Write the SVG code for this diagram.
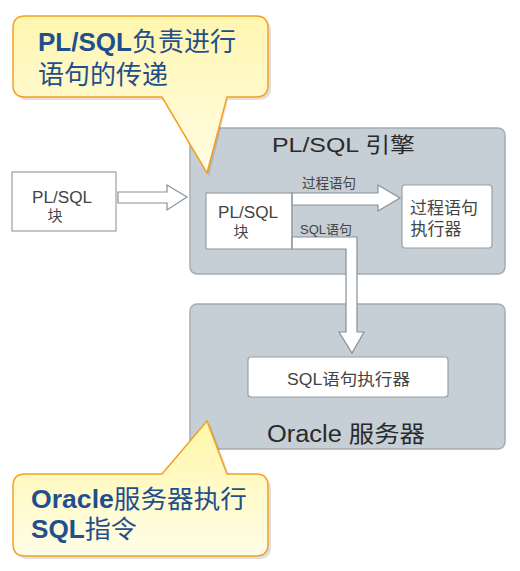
<svg xmlns="http://www.w3.org/2000/svg" width="520" height="571" viewBox="0 0 520 571">
<defs>
<linearGradient id="cg" x1="0" y1="0" x2="0" y2="1">
<stop offset="0" stop-color="#fff6b0"/>
<stop offset="1" stop-color="#fffde4"/>
</linearGradient>
<linearGradient id="cg2" x1="0" y1="0" x2="0" y2="1">
<stop offset="0" stop-color="#fff7a8"/>
<stop offset="1" stop-color="#fffde8"/>
</linearGradient>
</defs>
<style>
.panel{fill:#c5cfd5;stroke:#a3adb3;stroke-width:1.5}
.box{fill:#ffffff;stroke:#9aa0a4;stroke-width:1.2}
.arrow{fill:#ffffff;stroke:#8a9094;stroke-width:1.2;stroke-linejoin:miter}
.title{font-family:"Liberation Sans","Noto Sans CJK SC",sans-serif;fill:#2a2a2a}
.lbl{font-family:"Liberation Sans","Noto Sans CJK SC",sans-serif;fill:#444}
.call{fill:url(#cg);stroke:#f5a020;stroke-width:1.5}
.shadow{fill:#000;opacity:0.12}
.ct{font-family:"Liberation Sans","Noto Sans CJK SC",sans-serif;fill:#1f4f8c;font-size:26px}
.b{font-weight:bold}
</style>

<g id="engine">
<rect class="panel" x="190" y="128" width="315" height="146" rx="7"/>
<text class="title" x="272" y="152" font-size="21" textLength="143" lengthAdjust="spacingAndGlyphs">PL/SQL 引擎</text>
</g>

<g id="oracle-server">
<rect class="panel" x="190" y="304" width="315" height="145" rx="7"/>
<text class="title" x="267" y="442" font-size="23" textLength="158" lengthAdjust="spacingAndGlyphs">Oracle 服务器</text>
</g>

<g id="plsql-block-outer">
<rect class="box" x="12" y="172" width="104" height="59"/>
<text class="lbl" x="32" y="203" font-size="16" textLength="60" lengthAdjust="spacingAndGlyphs" fill="#333">PL/SQL</text>
<text class="lbl" x="55" y="221" font-size="15" text-anchor="middle">块</text>
</g>

<g id="plsql-block-inner">
<rect class="box" x="206" y="193" width="86" height="56"/>
<text class="lbl" x="218" y="218" font-size="16" textLength="60" lengthAdjust="spacingAndGlyphs">PL/SQL</text>
<text class="lbl" x="241" y="237" font-size="15" text-anchor="middle">块</text>
</g>

<g id="proc-executor">
<rect class="box" x="402" y="185" width="90" height="63" rx="3"/>
<text class="lbl" x="444" y="214" font-size="17" text-anchor="middle" fill="#555">过程语句</text>
<text class="lbl" x="436" y="235" font-size="17" text-anchor="middle" fill="#555">执行器</text>
</g>

<g id="sql-executor">
<rect class="box" x="248" y="357" width="200" height="40" rx="3"/>
<text class="lbl" x="287" y="385" font-size="16" textLength="123" lengthAdjust="spacingAndGlyphs" fill="#333">SQL语句执行器</text>
</g>

<g id="connectors">
<polygon class="arrow" points="118,192 167,192 167,185 187,197 167,210 167,203 118,203"/>
<polygon class="arrow" points="292,193 378,193 378,185 400,198 378,211 378,205 292,205"/>
<polygon class="arrow" points="292,237 357,237 357,332 364,332 352,353 339,332 346,332 346,249 292,249"/>
<line x1="292" y1="193" x2="292" y2="249" stroke="#9aa0a4" stroke-width="1.2"/>
<text class="lbl" x="302" y="188" font-size="13.5">过程语句</text>
<text class="lbl" x="300" y="234" font-size="13" textLength="52" lengthAdjust="spacingAndGlyphs">SQL语句</text>
</g>

<g id="callout-top">
<path class="shadow" d="M28,19 H259 Q271,19 271,31 V88 Q271,100 259,100 H228 L209,176 L166,100 H28 Q16,100 16,88 V31 Q16,19 28,19 Z"/>
<path class="call" d="M25,16 H256 Q268,16 268,28 V85 Q268,97 256,97 H227 L207,173 L162,97 H25 Q13,97 13,85 V28 Q13,16 25,16 Z"/>
<text class="ct" x="38" y="51"><tspan class="b">PL/SQL</tspan>负责进行</text>
<text class="ct" x="38" y="84">语句的传递</text>
</g>

<g id="callout-bottom">
<path class="shadow" d="M28,477 H166 L210,424 L230,477 H259 Q271,477 271,489 V547 Q271,559 259,559 H28 Q16,559 16,547 V489 Q16,477 28,477 Z"/>
<path class="call" style="fill:url(#cg2)" d="M25,474 H162 L207,421 L227,474 H256 Q268,474 268,486 V544 Q268,556 256,556 H25 Q13,556 13,544 V486 Q13,474 25,474 Z"/>
<text class="ct" x="31" y="508" style="font-size:25px" textLength="216" lengthAdjust="spacingAndGlyphs"><tspan class="b">Oracle</tspan>服务器执行</text>
<text class="ct" x="31" y="538" style="font-size:25px" textLength="106" lengthAdjust="spacingAndGlyphs"><tspan class="b">SQL</tspan>指令</text>
</g>
</svg>
